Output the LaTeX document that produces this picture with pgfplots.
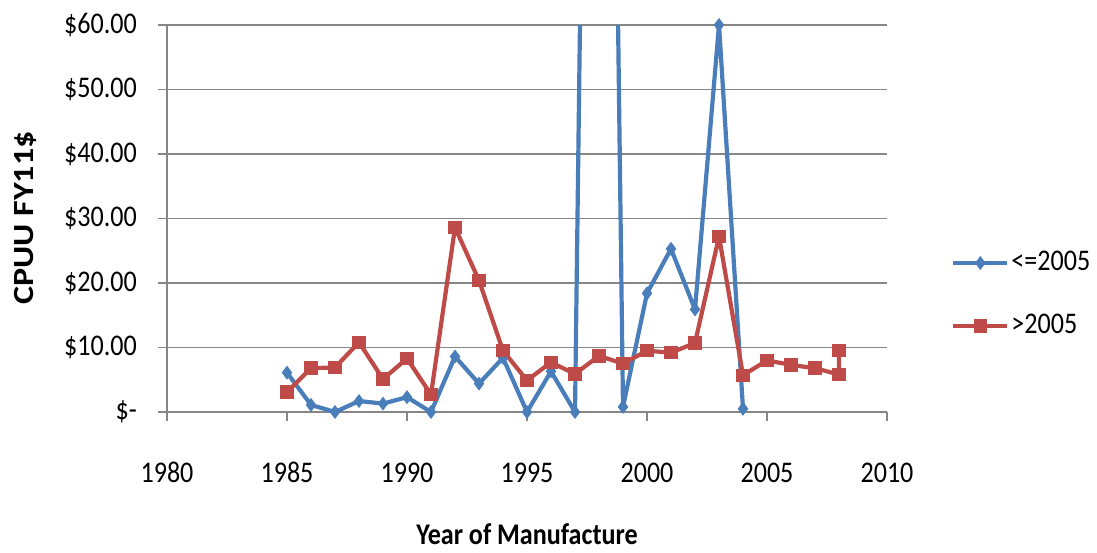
\documentclass[border=0pt]{standalone}
\usepackage{fontspec}
\setmainfont{Carlito}[FakeStretch=0.87]
\newfontfamily\plainfont{Carlito}
\usepackage{pgfplots}
\pgfplotsset{compat=1.18}
\usepackage{graphicx}
\definecolor{xlblue}{HTML}{4A7EBB}
\definecolor{xlred}{HTML}{BE4B48}
\definecolor{gridgray}{HTML}{868686}

\pgfplotstableread{
year val
1985 6.1
1986 1.1
1987 0
1988 1.7
1989 1.3
1990 2.3
1991 0
1992 8.6
1993 4.4
1994 8.4
1995 0
1996 6.3
1997 0
1998 290
1999 0.8
2000 18.4
2001 25.3
2002 15.9
2003 60
2004 0.5
}\bluedata

\pgfplotstableread{
year val
1985 3.1
1986 6.8
1987 6.9
1988 10.8
1989 5.1
1990 8.3
1991 2.7
1992 28.6
1993 20.4
1994 9.5
1995 4.9
1996 7.7
1997 5.9
1998 8.7
1999 7.5
2000 9.5
2001 9.2
2002 10.7
2003 27.2
2004 5.7
2005 8.0
2006 7.3
2007 6.8
2008 5.8
2008 9.5
}\reddata

\begin{document}
\begin{tikzpicture}
\path[use as bounding box] (-167pt,-140pt) rectangle (930pt,412pt);
\begin{axis}[
  at={(0pt,0pt)}, anchor=south west,
  scale only axis, width=720pt, height=387pt,
  xmin=1980, xmax=2010, ymin=0, ymax=60,
  xtick={1980,1985,1990,1995,2000,2005,2010},
  xticklabels={1980,1985,1990,1995,2000,2005,2010},
  ytick={0,10,20,30,40,50,60},
  yticklabels={\$-,\$10.00,\$20.00,\$30.00,\$40.00,\$50.00,\$60.00},
  axis x line*=bottom, axis y line*=left,
  axis line style={draw=gridgray, line width=1.3pt, -},
  ymajorgrids, grid style={draw=gridgray, line width=1.3pt},
  tick style={draw=gridgray, line width=1.3pt},
  tick align=outside, major tick length=9pt,
  tick label style={font=\fontsize{30}{30}\selectfont, text=black},
  yticklabel style={anchor=east, inner sep=0pt, xshift=-21pt},
  xticklabel style={anchor=base, inner sep=0pt, yshift=-61pt},
  xlabel={\bfseries Year of Manufacture},
  xlabel style={at={(axis description cs:0.5,-0.3411)}, anchor=base, font=\fontsize{30}{30}\selectfont},
  ylabel={\scalebox{1}[0.86]{\plainfont\bfseries\fontsize{34}{34}\selectfont CPUU FY11\$}},
  ylabel style={at={(axis description cs:-0.1861,0.501)}, anchor=base},
  clip marker paths=false,
  legend style={at={(axis description cs:1.0889,0.3036)}, anchor=west, draw=none, fill=none,
    inner sep=0pt, row sep=33pt, font=\fontsize{30}{30}\selectfont,
    nodes={inner sep=2pt, text height=20pt, text depth=6pt}},
  legend cell align=left,
  legend image code/.code={
    \draw[mark repeat=2,mark phase=2,#1] plot coordinates {(0pt,0pt) (27pt,0pt) (54pt,0pt)};
  },
]
\addplot[color=xlblue, line width=4.2pt, line join=round, mark=diamond*, mark size=6.2pt,
  mark options={solid, fill=xlblue, draw=xlblue, line width=1pt, line join=miter}]
  table[x=year, y=val] {\bluedata};
\addlegendentry{<=2005}
\addplot[color=xlred, line width=4.2pt, line join=round, mark=square*, mark size=6.2pt,
  mark options={solid, fill=xlred, draw=xlred, line width=1pt, line join=miter}]
  table[x=year, y=val] {\reddata};
\addlegendentry{>2005}
\end{axis}
\end{tikzpicture}
\end{document}
